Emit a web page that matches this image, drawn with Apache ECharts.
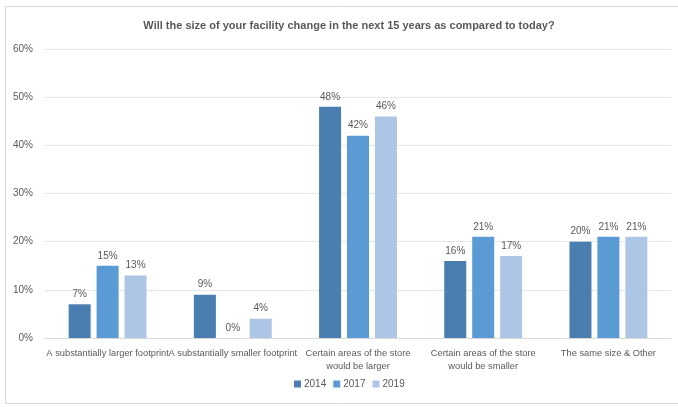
<!DOCTYPE html>
<html>
<head>
<meta charset="utf-8">
<script src="https://cdn.jsdelivr.net/npm/echarts@6/dist/echarts.min.js"></script>
<style>
  html, body { margin: 0; padding: 0; background: #ffffff; }
  #chart { width: 678px; height: 407px; }
</style>
</head>
<body>
<div id="chart"></div>
<script>
// Survey answers, grouped by question option
const categories = [
  'A substantially larger footprint',
  'A substantially smaller footprint',
  'Certain areas of the store\nwould be larger',
  'Certain areas of the store\nwould be smaller',
  'The same size & Other'
];
const years = ['2014', '2017', '2019'];
const values2014 = [7, 9, 48, 16, 20];
const values2017 = [15, 0, 42, 21, 21];
const values2019 = [13, 4, 46, 17, 21];
const yTicks = [0, 10, 20, 30, 40, 50, 60];

const colors = ['#4a7eb0', '#5b9bd5', '#adc6e5'];
const textColor = '#595959';
const font = '"Liberation Sans", Arial, sans-serif';

const seriesData = [values2014, values2017, values2019];

const chart = echarts.init(document.getElementById('chart'), null, { renderer: 'canvas' });

chart.setOption({
  backgroundColor: '#ffffff',
  animation: false,
  title: {
    text: 'Will the size of your facility change in the next 15 years as compared to today?',
    left: 344,
    textAlign: 'center',
    top: 15,
    textStyle: { fontFamily: font, fontSize: 11, fontWeight: 'bold', color: textColor }
  },
  graphic: [{
    type: 'rect',
    shape: { x: 5.5, y: 6.5, width: 680, height: 397 },
    style: { fill: 'none', stroke: '#d9d9d9', lineWidth: 1 },
    silent: true
  }],
  legend: {
    data: years,
    bottom: 13,
    left: 289,
    itemWidth: 7,
    itemHeight: 7,
    itemGap: 7,
    icon: 'rect',
    textStyle: { fontFamily: font, fontSize: 10, color: textColor, padding: [0, 0, 0, -2] }
  },
  grid: { left: 45, right: 7, top: 49, bottom: 69, containLabel: false },
  xAxis: {
    type: 'category',
    data: categories,
    axisTick: { show: false },
    axisLine: { lineStyle: { color: '#d9d9d9', width: 1 } },
    axisLabel: {
      interval: 0,
      margin: 9,
      fontFamily: font,
      fontSize: 9.3,
      color: textColor,
      lineHeight: 13,
      align: 'center'
    }
  },
  yAxis: {
    type: 'value',
    min: yTicks[0],
    max: yTicks[yTicks.length - 1],
    interval: 10,
    axisLine: { show: false },
    axisTick: { show: false },
    splitLine: { lineStyle: { color: '#e6e6e6', width: 1 } },
    axisLabel: {
      margin: 12,
      fontFamily: font,
      fontSize: 10,
      color: textColor,
      formatter: v => v + '%'
    }
  },
  series: years.map((y, i) => ({
    name: y,
    type: 'bar',
    data: seriesData[i],
    barWidth: 22,
    barGap: '27%',
    itemStyle: { color: colors[i] },
    label: {
      show: true,
      position: 'top',
      distance: 5,
      fontFamily: font,
      fontSize: 10,
      color: textColor,
      formatter: p => p.value + '%'
    }
  }))
});
</script>
</body>
</html>
